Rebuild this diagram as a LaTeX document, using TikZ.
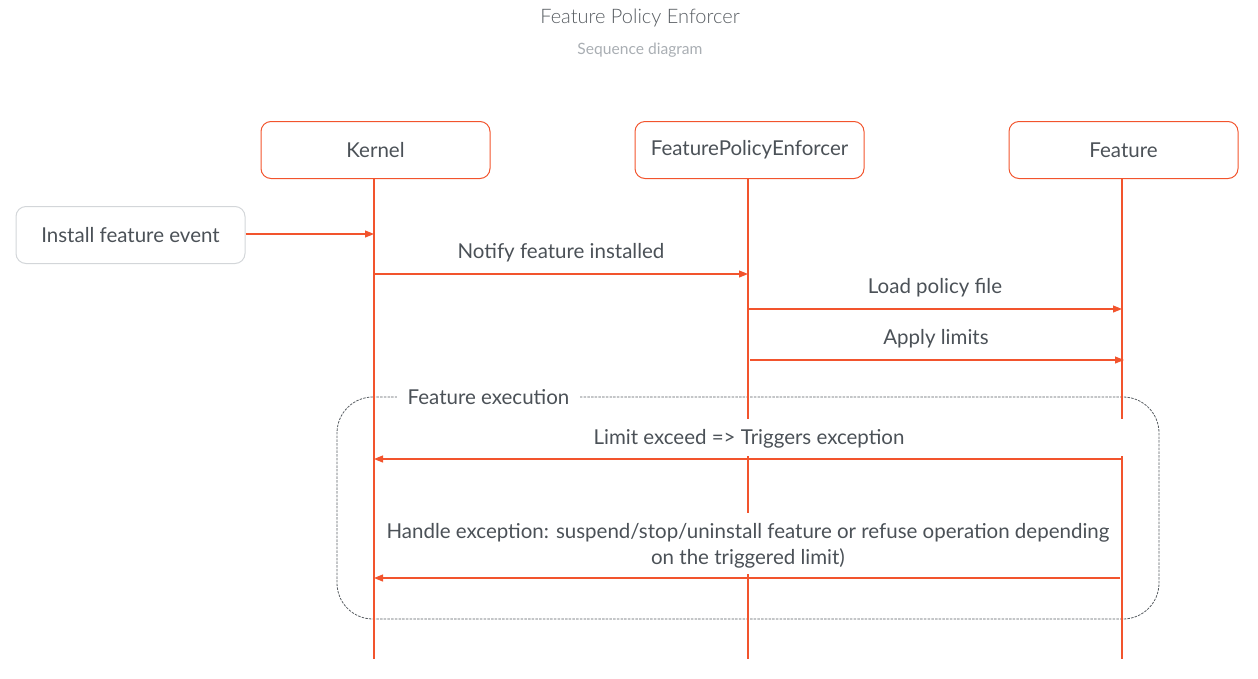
\documentclass[tikz,border=0pt]{standalone}
\usepackage{fontspec}
\setmainfont{Lato}
\newfontfamily\lightfont{Lato Light}
\usetikzlibrary{arrows.meta}
\definecolor{accent}{HTML}{F2542D}
\definecolor{txt}{HTML}{4B5157}
\definecolor{ttl}{HTML}{575C61}
\definecolor{sub}{HTML}{A9AEB3}
\definecolor{evb}{HTML}{D3D6D9}
\definecolor{frm}{HTML}{585D62}
\tikzset{
  actor/.style={draw=accent, line width=1pt, rounded corners=10pt, minimum width=229pt, minimum height=57pt, inner sep=0pt, text=txt, font=\fontsize{20.5}{24}\selectfont},
  evbox/.style={draw=evb, line width=1pt, rounded corners=10pt, minimum width=229pt, minimum height=57pt, inner sep=0pt, text=txt, font=\fontsize{20.5}{24}\selectfont},
  life/.style={draw=accent, line width=1.1pt},
  msg/.style={draw=accent, line width=1.1pt, -{Triangle[length=9pt,width=7pt]}},
  lbl/.style={text=txt, font=\fontsize{20.5}{24}\selectfont, inner sep=0pt},
  frame/.style={draw=frm, line width=0.8pt, dash pattern=on 2.5pt off 1.2pt, rounded corners=36pt}
}
\begin{document}
\begin{tikzpicture}[x=1pt,y=-1pt]
\useasboundingbox (0,0) rectangle (1258,678);
\node[font=\lightfont\fontsize{20}{24}\selectfont, text=ttl] (title) at (640,18) {Feature Policy Enforcer};
\node[font=\fontsize{15.6}{18}\selectfont, text=sub] (subtitle) at (640,50) {Sequence diagram};

\node[actor] (kernel) at (375.5,150) {Kernel};
\node[actor] (fpe) at (749.5,150) {FeaturePolicyEnforcer};
\node[actor] (feature) at (1123.5,150) {Feature};
\node[evbox] (install) at (130.5,235) {Install feature event};

% frame
\draw[frame] (373,397) -- (337,397) -- (337,619) -- (1159,619) -- (1159,397) -- (373,397);
\node[lbl, fill=white, inner xsep=11pt, inner ysep=3pt] (fexec) at (488.5,397) {Feature execution};

% lifelines
\coordinate (kT) at (374,178);
\coordinate (kB) at (374,659);
\coordinate (pT) at (748,178);
\coordinate (p1) at (748,419);
\coordinate (p2) at (748,456);
\coordinate (p3) at (748,513);
\coordinate (p4) at (748,574);
\coordinate (pB) at (748,659);
\coordinate (fT) at (1122,178);
\coordinate (f1) at (1122,419);
\coordinate (f2) at (1122,456);
\coordinate (fB) at (1122,659);
\draw[life] (kT) -- (kB);
\draw[life] (pT) -- (p1) (p2) -- (p3) (p4) -- (pB);
\draw[life] (fT) -- (f1) (f2) -- (fB);

% messages
\coordinate (k234) at (374,234);
\coordinate (k274) at (374,274);
\coordinate (p274) at (748,274);
\coordinate (p309) at (749,309);
\coordinate (f309) at (1122,309);
\coordinate (p360) at (750,360);
\coordinate (f360) at (1124,360);
\coordinate (f459) at (1122,459);
\coordinate (k459) at (374,459);
\coordinate (f578) at (1120,578);
\coordinate (k578) at (374,578);

\draw[msg] (install.east |- k234) -- (k234);
\draw[msg] (k274) -- (p274);
\node[lbl] (m1) at (561,253) {Notify feature installed};
\draw[msg] (p309) -- (f309);
\node[lbl] (m2) at (935,288) {Load policy file};
\draw[msg] (p360) -- (f360);
\node[lbl] (m3) at (936,339) {Apply limits};
\draw[msg] (f459) -- (k459);
\node[lbl] (m4) at (749,439) {Limit exceed => Triggers exception};
\draw[msg] (f578) -- (k578);
\node[lbl, align=center, font=\fontsize{20.5}{26}\selectfont] (m5) at (748,545.5) {Handle exception: suspend/stop/uninstall feature or refuse operation depending\\on the triggered limit)};
\end{tikzpicture}
\end{document}
